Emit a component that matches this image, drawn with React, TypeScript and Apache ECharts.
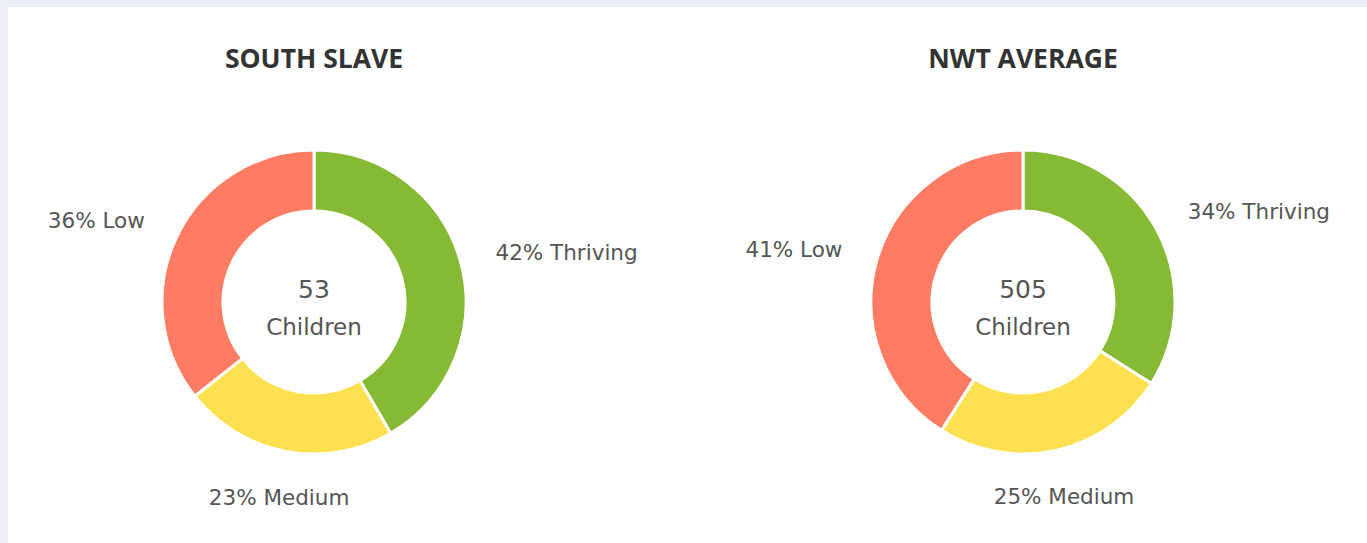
import React, { useEffect, useRef } from "react";
import * as echarts from "echarts";

// ---- data ----
const regionTitles = ["SOUTH SLAVE", "NWT AVERAGE"];
const childrenTotals = [53, 505];
const centerUnit = "Children";
const categories = ["Thriving", "Medium", "Low"];
const southSlavePct = [42, 23, 36];
const nwtAveragePct = [34, 25, 41];
const sliceColors = ["#86b934", "#fde150", "#fe7c64"];

const seriesValues = [southSlavePct, nwtAveragePct];

// ---- layout ----
const CHART_W = 1359;
const CHART_H = 536;
const centers: number[][] = [
  [306, 295],
  [1015, 295],
];
const R_IN = 91;
const R_OUT = 152;
const LABEL_DIST = 188;

function midAngle(vals: number[], idx: number) {
  const sum = vals.reduce((a, b) => a + b, 0);
  let before = 0;
  for (let i = 0; i < idx; i++) before += vals[i];
  return ((before + vals[idx] / 2) / sum) * Math.PI * 2;
}

export default function App() {
  const ref = useRef<HTMLDivElement>(null);

  useEffect(() => {
    if (!ref.current) return;
    const chart = echarts.init(ref.current, null, { renderer: "svg" });

    const series = seriesValues.map((vals, si) => ({
      type: "pie",
      center: centers[si],
      radius: [R_IN, R_OUT],
      startAngle: 90,
      clockwise: true,
      avoidLabelOverlap: false,
      itemStyle: { borderColor: "#ffffff", borderWidth: 3 },
      label: {
        show: true,
        position: "outside",
        formatter: "{c}% {b}",
        color: "#555555",
        fontFamily: "DejaVu Sans",
        fontSize: 21.5,
      },
      labelLine: { show: false },
      emphasis: { disabled: true },
      labelLayout: (params: any) => {
        const idx = params.dataIndex;
        const a = midAngle(vals, idx);
        const vx = Math.sin(a);
        const vy = -Math.cos(a);
        const [cx, cy] = centers[si];
        const horiz = Math.abs(vx) >= Math.abs(vy);
        return {
          x: cx + vx * LABEL_DIST,
          y: cy + vy * LABEL_DIST,
          align: horiz ? (vx > 0 ? "left" : "right") : "center",
          verticalAlign: horiz ? "middle" : vy > 0 ? "top" : "bottom",
        };
      },
      data: categories.map((name, i) => ({
        name,
        value: vals[i],
        itemStyle: { color: sliceColors[i] },
      })),
    }));

    const graphics: any[] = [];
    regionTitles.forEach((t, i) => {
      graphics.push({
        type: "text",
        x: centers[i][0],
        y: 51,
        style: {
          text: t,
          fill: "#333333",
          font: "bold 26.5px 'Open Sans'",
          textAlign: "center",
          textVerticalAlign: "middle",
        },
      });
      graphics.push({
        type: "text",
        x: centers[i][0],
        y: centers[i][1] - 13,
        style: {
          text: String(childrenTotals[i]),
          fill: "#555555",
          font: "25px 'DejaVu Sans'",
          textAlign: "center",
          textVerticalAlign: "middle",
        },
      });
      graphics.push({
        type: "text",
        x: centers[i][0],
        y: centers[i][1] + 25,
        style: {
          text: centerUnit,
          fill: "#555555",
          font: "23px 'DejaVu Sans'",
          textAlign: "center",
          textVerticalAlign: "middle",
        },
      });
    });

    chart.setOption({
      animation: false,
      backgroundColor: "#ffffff",
      series,
      graphic: graphics,
    });

    return () => chart.dispose();
  }, []);

  return (
    <div
      style={{
        position: "fixed",
        left: 0,
        top: 0,
        width: 1367,
        height: 543,
        background: "#e9eef7",
        overflow: "hidden",
      }}
    >
      <div
        ref={ref}
        style={{
          position: "absolute",
          left: 8,
          top: 7,
          width: CHART_W,
          height: CHART_H,
          background: "#ffffff",
        }}
      />
    </div>
  );
}
